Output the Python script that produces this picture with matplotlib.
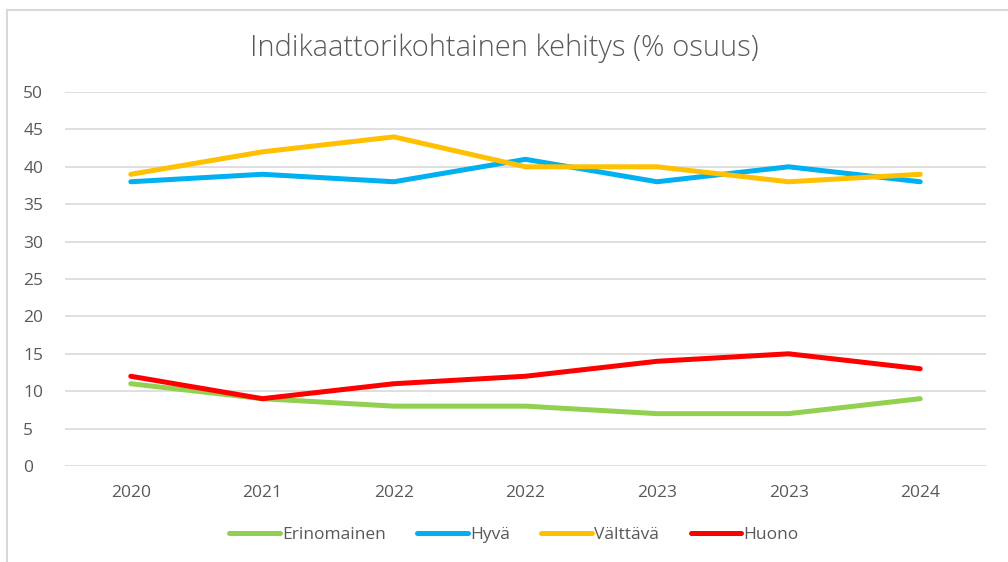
import numpy as np
import matplotlib.pyplot as plt
from matplotlib.lines import Line2D

years = ['2020', '2021', '2022', '2022', '2023', '2023', '2024']
erinomainen = [11, 9, 8, 8, 7, 7, 9]
hyva = [38, 39, 38, 41, 38, 40, 38]
valttava = [39, 42, 44, 40, 40, 38, 39]
huono = [12, 9, 11, 12, 14, 15, 13]

series = [('Erinomainen', erinomainen, '#92D050'),
          ('Hyvä', hyva, '#00B0F0'),
          ('Välttävä', valttava, '#FFC000'),
          ('Huono', huono, '#FF0000')]

plt.rcParams['font.family'] = ['Open Sans', 'DejaVu Sans']

W, H = 1008, 562
fig = plt.figure(figsize=(W/100, H/100), dpi=100)
ax = fig.add_axes([65/W, 1-466/H, (986-65)/W, (466-92)/H])

x = np.arange(len(years))
for name, vals, col in series:
    ax.plot(x, vals, color=col, lw=3.6, solid_capstyle='round', solid_joinstyle='round', label=name)

ax.set_xlim(-0.5, len(years)-0.5)
ax.set_ylim(0, 50)
ax.set_yticks(range(0, 51, 5))
ax.set_xticks(x)
ax.set_xticklabels(years)
ax.grid(axis='y', color='#d9d9d9', lw=1.2)
ax.set_axisbelow(True)
for s in ax.spines.values():
    s.set_visible(False)
ax.tick_params(length=0, colors='#595959', labelsize=12.5)
ax.tick_params(axis='x', pad=14)
ax.tick_params(axis='y', pad=30)
for lab in ax.get_yticklabels():
    lab.set_horizontalalignment('left')

fig.text(0.5, 1-48/H, 'Indikaattorikohtainen kehitys (% osuus)', ha='center', va='center',
         fontsize=21, color='#595959', fontweight='light')

handles = [Line2D([], [], color=c, lw=3.6, solid_capstyle='round') for _, _, c in series]
fig.legend(handles, [n for n, _, _ in series], loc='center', bbox_to_anchor=(0.51, 1-535/H),
           ncol=4, frameon=False, fontsize=12.5, labelcolor='#595959',
           handlelength=2.9, handletextpad=0.15, columnspacing=1.8)

# chart frame
fig.add_artist(plt.Rectangle((7/W, -0.01), 1.1, 1-10/H+0.01, transform=fig.transFigure,
                             fill=False, edgecolor='#d9d9d9', lw=1.5))

fig.savefig('out.png', dpi=100, facecolor='white')
